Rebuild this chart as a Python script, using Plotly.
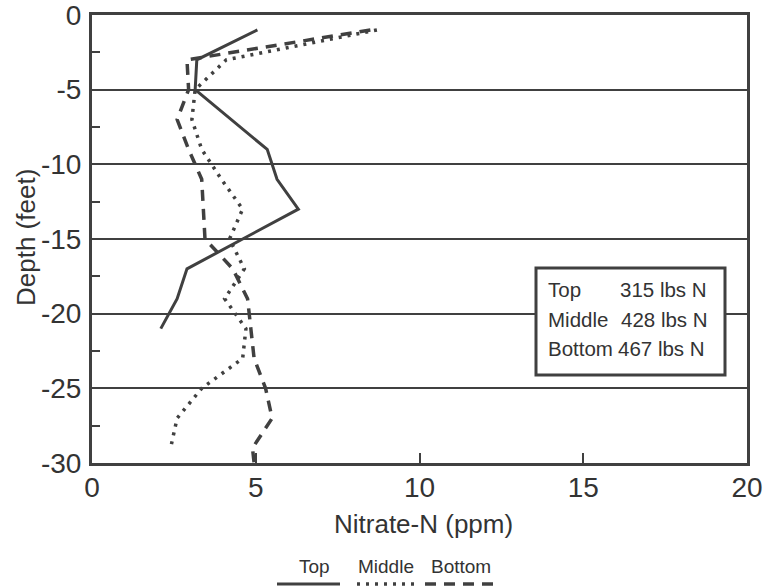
import plotly.graph_objects as go

# ---- data ----
top_depth = [-1, -3, -5, -7, -9, -11, -13, -15, -17, -19, -21]
top_no3 = [5.05, 3.2, 3.15, 4.25, 5.35, 5.65, 6.3, 4.6, 2.9, 2.6, 2.1]

mid_depth = [-1, -3, -5, -7, -9, -11, -13, -15, -17, -19, -21, -23, -25, -27, -29]
mid_no3 = [8.7, 4.1, 3.15, 3.05, 3.35, 3.95, 4.6, 4.2, 4.65, 4.05, 4.7, 4.6, 3.35, 2.6, 2.4]

bot_depth = [-1, -3, -5, -7, -9, -11, -13, -15, -17, -19, -21, -23, -25, -27, -29, -30]
bot_no3 = [8.5, 2.9, 2.95, 2.6, 2.95, 3.35, 3.4, 3.45, 4.3, 4.75, 4.85, 4.95, 5.3, 5.5, 4.9, 4.95]

series_names = ["Top", "Middle", "Bottom"]
totals = ["315 lbs N", "428 lbs N", "467 lbs N"]

x_ticks = [0, 5, 10, 15, 20]
x_ticktext = ["0", "5", "10", "15", "20"]
y_ticks = [0, -5, -10, -15, -20, -25, -30]
y_ticktext = ["0", "-5", "-10", "-15", "-20", "-25", "-30"]
y_minor = [-2.5, -7.5, -12.5, -17.5, -22.5, -27.5]

INK = "#404040"
TXT = "#333333"
FONT = "Liberation Sans, Arial, Helvetica, sans-serif"

W, H = 763, 586
L, R, T, B = 92, 16, 15, 123
PW, PH = W - L - R, H - T - B

def px(xp):
    return (xp - L) / PW

def py(yp):
    return (H - B - yp) / PH

fig = go.Figure()
fig.add_trace(go.Scatter(x=top_no3, y=top_depth, mode="lines", name="Top",
                         line=dict(color=INK, width=3)))
fig.add_trace(go.Scatter(x=mid_no3, y=mid_depth, mode="lines", name="Middle",
                         line=dict(color=INK, width=3.5, dash="3px,6px")))
fig.add_trace(go.Scatter(x=bot_no3, y=bot_depth, mode="lines", name="Bottom",
                         line=dict(color=INK, width=3.5, dash="11px,8px")))

fig.update_layout(
    width=W, height=H,
    margin=dict(l=L, r=R, t=T, b=B, autoexpand=False),
    paper_bgcolor="white", plot_bgcolor="white",
    showlegend=False,
    font=dict(family=FONT, color=TXT),
)
fig.update_xaxes(range=[0, 20], tickvals=x_ticks, ticktext=x_ticktext,
                 ticks="inside", ticklen=10,
                 tickwidth=2, tickcolor=INK, showgrid=False, zeroline=False,
                 showline=True, linewidth=3, linecolor=INK, mirror=True,
                 automargin=False, ticklabeloverflow="allow",
                 tickfont=dict(size=28, color=TXT), ticklabelstandoff=-3)
fig.update_yaxes(range=[-30, 0], tickvals=y_ticks, ticktext=y_ticktext,
                 ticks="", showgrid=True,
                 gridcolor=INK, gridwidth=2, zeroline=False,
                 showline=True, linewidth=3, linecolor=INK, mirror=True,
                 automargin=False, ticklabeloverflow="allow",
                 tickfont=dict(size=28, color=TXT), ticklabelstandoff=2,
                 minor=dict(tickvals=y_minor, ticks="inside", ticklen=8,
                            tickwidth=2, tickcolor=INK, showgrid=False))

# axis titles
fig.add_annotation(text="Nitrate-N (ppm)", xref="paper", yref="paper",
                   x=px(423), y=py(524), showarrow=False,
                   xanchor="center", yanchor="middle",
                   font=dict(size=26, color=TXT, family=FONT))
fig.add_annotation(text="Depth (feet)", xref="paper", yref="paper",
                   x=px(26), y=py(238), showarrow=False, textangle=-90,
                   xanchor="center", yanchor="middle",
                   font=dict(size=26, color=TXT, family=FONT))

# totals box
fig.add_shape(type="rect", xref="paper", yref="paper",
              x0=px(536), x1=px(725), y0=py(375), y1=py(268),
              line=dict(color=INK, width=3), fillcolor="white", layer="above")
row_y = [289, 319, 348]
val_x = [618, 619, 616]
for name, tot, yy, vx in zip(series_names, totals, row_y, val_x):
    fig.add_annotation(text=name, xref="paper", yref="paper", x=px(546), y=py(yy),
                       showarrow=False, xanchor="left", yanchor="middle",
                       font=dict(size=20.5, color=TXT, family=FONT))
    fig.add_annotation(text=tot, xref="paper", yref="paper", x=px(vx), y=py(yy),
                       showarrow=False, xanchor="left", yanchor="middle",
                       font=dict(size=20.5, color=TXT, family=FONT))

# bottom key
key_cx = [314, 386, 461]
for name, cx in zip(series_names, key_cx):
    fig.add_annotation(text=name, xref="paper", yref="paper", x=px(cx), y=py(566),
                       showarrow=False, xanchor="center", yanchor="middle",
                       font=dict(size=19, color=TXT, family=FONT))
key_lines = [(277, 340, None, 3), (357, 420, "3px,6px", 3.5), (425, 497, "11px,8px", 3.5)]
for x0, x1, dash, w in key_lines:
    ln = dict(color=INK, width=w)
    if dash:
        ln["dash"] = dash
    fig.add_shape(type="line", xref="paper", yref="paper",
                  x0=px(x0), x1=px(x1), y0=py(584), y1=py(584), line=ln)

fig.write_html("out.html", config={"displayModeBar": False},
               post_script="document.body.style.margin='0';document.body.style.overflow='hidden';")
